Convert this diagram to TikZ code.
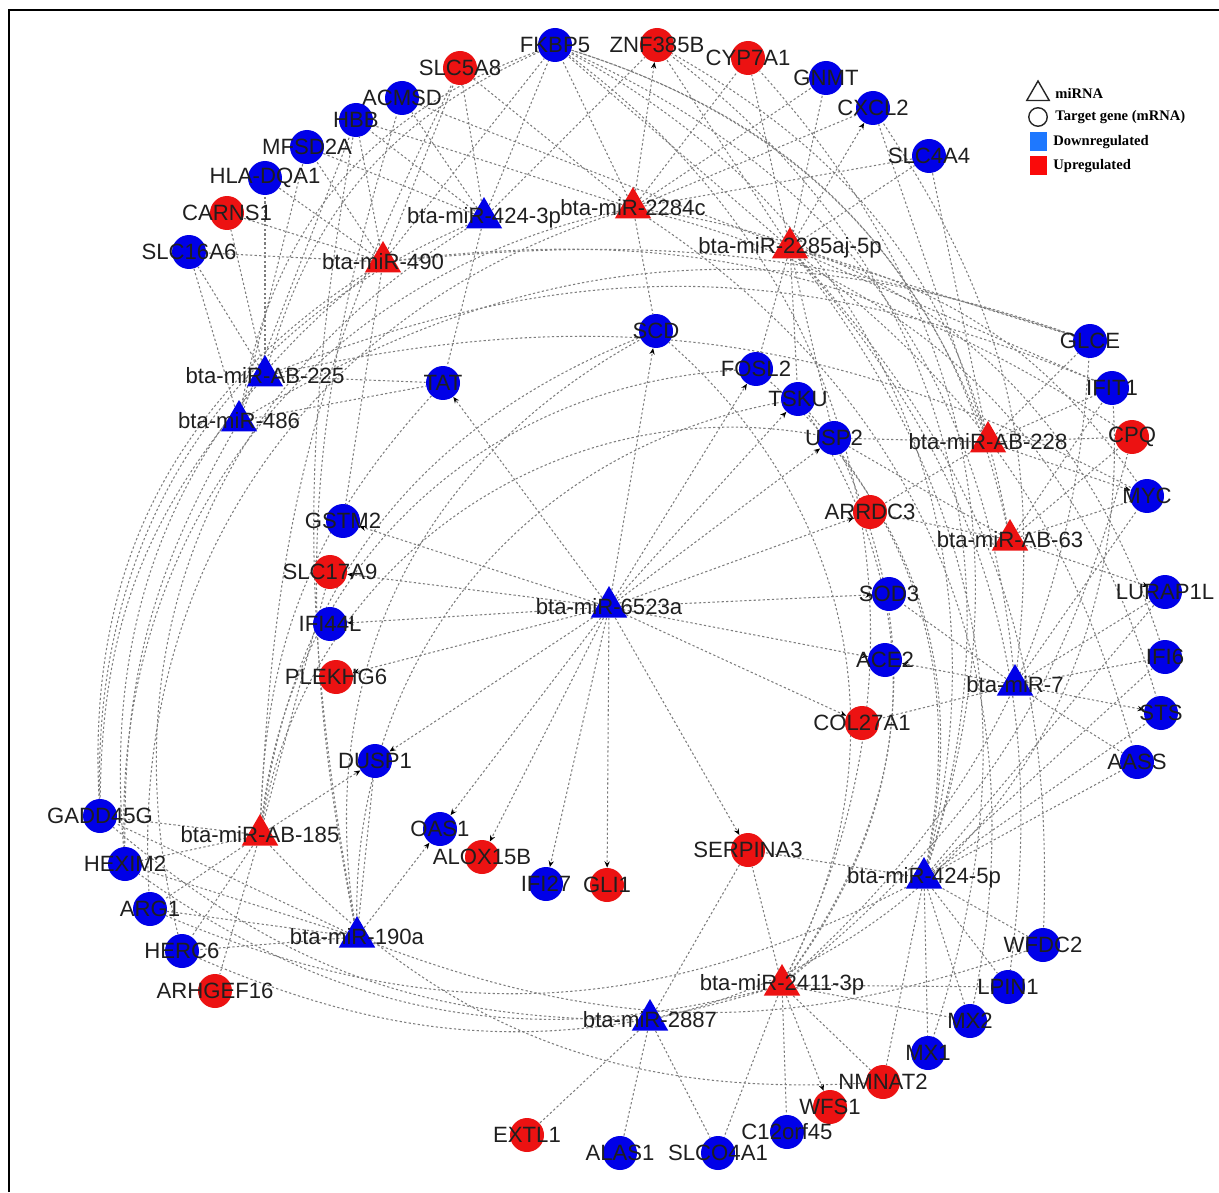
\documentclass[tikz,border=0pt]{standalone}
\usepackage{fontspec}
\setmainfont{Liberation Sans}
\newfontfamily\legfont{Liberation Serif}
\usetikzlibrary{arrows.meta,shapes.geometric,backgrounds}
\definecolor{nblue}{RGB}{0,0,232}
\definecolor{nred}{RGB}{236,18,18}
\definecolor{lblue}{RGB}{30,120,255}
\definecolor{lred}{RGB}{250,10,10}
\definecolor{egray}{RGB}{125,125,125}
\tikzset{
  gene/.style={circle,fill=#1,draw=none,minimum size=0.68cm,inner sep=0pt},
  mir/.style={regular polygon,regular polygon sides=3,fill=#1,draw=none,minimum size=0.84cm,inner sep=0pt},
  lbl/.style={font=\fontsize{12.6}{14}\selectfont,text=black!88,inner sep=0pt},
  edge/.style={draw=egray,line width=0.6pt,dash pattern=on 1.3pt off 1.3pt},
  aedge/.style={edge,-{Stealth[length=3.6pt,width=3pt,color=black]}},
  legtxt/.style={font=\legfont\bfseries\fontsize{8.3}{10}\selectfont,anchor=west,inner sep=0pt},
}
\newcommand\mkgene[5]{\node[gene=#4,label={[lbl]center:#5}] (#1) at (#2,#3) {};}
\newcommand\mkmir[5]{\node[mir=#4,label={[lbl]center:#5}] (#1) at (#2,#3) {};}
\begin{document}
\begin{tikzpicture}[x=0.02cm,y=-0.02cm]
\useasboundingbox (0,0) rectangle (1219,1192);
\draw[line width=1.2pt] (9,1192) -- (9,10) -- (1219,10);
% genes
\mkgene{FKBP5}{555}{45}{nblue}{FKBP5}
\mkgene{ZNF385B}{657}{45}{nred}{ZNF385B}
\mkgene{CYP7A1}{748}{58}{nred}{CYP7A1}
\mkgene{GNMT}{826}{78}{nblue}{GNMT}
\mkgene{CXCL2}{873}{108}{nblue}{CXCL2}
\mkgene{SLC4A4}{929}{156}{nblue}{SLC4A4}
\mkgene{SLC5A8}{460}{68}{nred}{SLC5A8}
\mkgene{ACMSD}{402}{98}{nblue}{ACMSD}
\mkgene{HBB}{356}{120}{nblue}{HBB}
\mkgene{MFSD2A}{307}{147}{nblue}{MFSD2A}
\mkgene{HLADQA1}{265}{178}{nblue}{HLA-DQA1}
\mkgene{CARNS1}{227}{213}{nred}{CARNS1}
\mkgene{SLC16A6}{189}{252}{nblue}{SLC16A6}
\mkgene{SCD}{656}{331}{nblue}{SCD}
\mkgene{GLCE}{1090}{341}{nblue}{GLCE}
\mkgene{IFIT1}{1112}{388}{nblue}{IFIT1}
\mkgene{CPQ}{1132}{437}{nred}{CPQ}
\mkgene{TAT}{443}{383}{nblue}{TAT}
\mkgene{FOSL2}{756}{369}{nblue}{FOSL2}
\mkgene{TSKU}{798}{399}{nblue}{TSKU}
\mkgene{USP2}{834}{438}{nblue}{USP2}
\mkgene{MYC}{1147}{496}{nblue}{MYC}
\mkgene{ARRDC3}{870}{512}{nred}{ARRDC3}
\mkgene{GSTM2}{343}{521}{nblue}{GSTM2}
\mkgene{SLC17A9}{330}{572}{nred}{SLC17A9}
\mkgene{SOD3}{889}{594}{nblue}{SOD3}
\mkgene{LURAP1L}{1165}{592}{nblue}{LURAP1L}
\mkgene{IFI44L}{330}{624}{nblue}{IFI44L}
\mkgene{IFI6}{1165}{657}{nblue}{IFI6}
\mkgene{ACE2}{885}{660}{nblue}{ACE2}
\mkgene{PLEKHG6}{336}{677}{nred}{PLEKHG6}
\mkgene{STS}{1161}{713}{nblue}{STS}
\mkgene{COL27A1}{862}{723}{nred}{COL27A1}
\mkgene{DUSP1}{375}{761}{nblue}{DUSP1}
\mkgene{AASS}{1137}{762}{nblue}{AASS}
\mkgene{GADD45G}{100}{816}{nblue}{GADD45G}
\mkgene{OAS1}{440}{829}{nblue}{OAS1}
\mkgene{ALOX15B}{482}{857}{nred}{ALOX15B}
\mkgene{SERPINA3}{748}{850}{nred}{SERPINA3}
\mkgene{HEXIM2}{125}{864}{nblue}{HEXIM2}
\mkgene{IFI27}{546}{884}{nblue}{IFI27}
\mkgene{GLI1}{607}{885}{nred}{GLI1}
\mkgene{ARG1}{150}{909}{nblue}{ARG1}
\mkgene{WFDC2}{1043}{945}{nblue}{WFDC2}
\mkgene{HERC6}{182}{951}{nblue}{HERC6}
\mkgene{ARHGEF16}{215}{991}{nred}{ARHGEF16}
\mkgene{LPIN1}{1008}{987}{nblue}{LPIN1}
\mkgene{MX2}{970}{1021}{nblue}{MX2}
\mkgene{MX1}{928}{1053}{nblue}{MX1}
\mkgene{NMNAT2}{883}{1082}{nred}{NMNAT2}
\mkgene{WFS1}{830}{1107}{nred}{WFS1}
\mkgene{EXTL1}{527}{1135}{nred}{EXTL1}
\mkgene{C12orf45}{787}{1132}{nblue}{C12orf45}
\mkgene{ALAS1}{620}{1153}{nblue}{ALAS1}
\mkgene{SLCO4A1}{718}{1153}{nblue}{SLCO4A1}
% miRNAs
\mkmir{mFourThree}{484}{218}{nblue}{bta-miR-424-3p}
\mkmir{mTwoEightFour}{633}{208}{nred}{bta-miR-2284c}
\mkmir{mTwoEightFive}{790}{248}{nred}{bta-miR-2285aj-5p}
\mkmir{mFourNinety}{383}{262}{nred}{bta-miR-490}
\mkmir{mABtwoTwoFive}{265}{376}{nblue}{bta-miR-AB-225}
\mkmir{mFourEightSix}{239}{421}{nblue}{bta-miR-486}
\mkmir{mABtwoTwoEight}{988}{442}{nred}{bta-miR-AB-228}
\mkmir{mABsixThree}{1010}{540}{nred}{bta-miR-AB-63}
\mkmir{mSixFive}{609}{607}{nblue}{bta-miR-6523a}
\mkmir{mSeven}{1015}{685}{nblue}{bta-miR-7}
\mkmir{mABoneEightFive}{260}{835}{nred}{bta-miR-AB-185}
\mkmir{mFourFive}{924}{878}{nblue}{bta-miR-424-5p}
\mkmir{mOneNinety}{357}{937}{nblue}{bta-miR-190a}
\mkmir{mTwoFourEleven}{782}{985}{nred}{bta-miR-2411-3p}
\mkmir{mTwoEightEight}{650}{1020}{nblue}{bta-miR-2887}
% legend
\node[regular polygon,regular polygon sides=3,draw=black!85,line width=0.8pt,minimum size=0.52cm,inner sep=0pt] (legtri) at (1038,94) {};
\node[circle,draw=black!85,line width=0.8pt,minimum size=0.37cm,inner sep=0pt] (legcirc) at (1038,117) {};
\node[fill=lblue,minimum width=0.34cm,minimum height=0.38cm,inner sep=0pt] (legdown) at (1038,142) {};
\node[fill=lred,minimum width=0.34cm,minimum height=0.38cm,inner sep=0pt] (legup) at (1038,166) {};
\node[legtxt] (legtria) at (1055,93) {miRNA};
\node[legtxt] (legcirca) at (1055,117) {Target gene (mRNA)};
\node[legtxt] (legdowna) at (1053,142) {Downregulated};
\node[legtxt] (legupa) at (1053,166) {Upregulated};
% edges
\begin{scope}[on background layer]
\foreach \t in {SCD,TAT,FOSL2,TSKU,USP2,ARRDC3,SOD3,ACE2,COL27A1,GSTM2,SLC17A9,IFI44L,PLEKHG6,DUSP1,OAS1,ALOX15B,IFI27,GLI1,SERPINA3}
  \draw[aedge] (mSixFive) -- (\t);
\foreach \t in {FKBP5,CYP7A1,SLC5A8,GNMT,CXCL2,HBB,SCD,SLC4A4}
  \draw[edge] (mTwoEightFour) -- (\t);
\draw[aedge] (mTwoEightFour) -- (ZNF385B);
\foreach \t in {CYP7A1,GNMT,SLC4A4,FKBP5,ZNF385B,FOSL2,TSKU,USP2,GLCE,IFIT1,ACMSD}
  \draw[edge] (mTwoEightFive) -- (\t);
\draw[aedge] (mTwoEightFive) -- (CXCL2);
\foreach \t in {FKBP5,ACMSD,SLC5A8,HBB,MFSD2A,TAT,ZNF385B}
  \draw[edge] (mFourThree) -- (\t);
\foreach \t in {SLC16A6,CARNS1,HLADQA1,MFSD2A,HBB,SLC5A8,FKBP5,GSTM2}
  \draw[edge] (mFourNinety) -- (\t);
\foreach \t in {TAT,HLADQA1,CARNS1,SLC16A6}
  \draw[edge] (mABtwoTwoFive) -- (\t);
\foreach \t in {TAT,SLC16A6,HBB,MFSD2A}
  \draw[edge] (mFourEightSix) -- (\t);
\foreach \t in {USP2,ARRDC3,GLCE,IFIT1,CPQ,SLC4A4,CXCL2}
  \draw[edge] (mABtwoTwoEight) -- (\t);
\draw[aedge] (mABtwoTwoEight) -- (MYC);
\foreach \t in {ARRDC3,MYC,CPQ,IFIT1,USP2}
  \draw[edge] (mABsixThree) -- (\t);
\draw[aedge] (mABsixThree) -- (LURAP1L);
\foreach \t in {SOD3,COL27A1,IFI6,AASS,MYC}
  \draw[edge] (mSeven) -- (\t);
\draw[aedge] (mSeven) -- (ACE2);
\draw[aedge] (mSeven) -- (STS);
\draw[edge] (mSeven) -- (LURAP1L);
\foreach \t in {SERPINA3,WFDC2,LPIN1,MX2,MX1,AASS,STS,NMNAT2,IFI6,LURAP1L}
  \draw[edge] (mFourFive) -- (\t);
\foreach \t in {SERPINA3,NMNAT2,C12orf45,SLCO4A1,LPIN1,MX2}
  \draw[edge] (mTwoFourEleven) -- (\t);
\draw[aedge] (mTwoFourEleven) -- (WFS1);
\foreach \t in {ALAS1,EXTL1,SLCO4A1,SERPINA3}
  \draw[edge] (mTwoEightEight) -- (\t);
\foreach \t in {ARG1,HEXIM2,HERC6,GADD45G,DUSP1}
  \draw[edge] (mOneNinety) -- (\t);
\draw[aedge] (mOneNinety) -- (OAS1);
\foreach \t in {GADD45G,HEXIM2,ARHGEF16,ARG1,HERC6,SLC17A9}
  \draw[edge] (mABoneEightFive) -- (\t);
\draw[aedge] (mABoneEightFive) -- (DUSP1);
% long arcs, right side
\draw[edge] (mTwoFourEleven) to[bend right=40] (FKBP5);
\draw[edge] (mFourFive) to[bend right=30] (CYP7A1);
\draw[edge] (mFourFive) to[bend right=35] (ZNF385B);
\draw[edge] (mFourFive) to[bend right=38] (FKBP5);
\draw[edge] (mTwoFourEleven) to[bend right=22] (GLCE);
\draw[edge] (mTwoFourEleven) to[bend right=18] (CPQ);
\draw[edge] (mTwoEightEight) to[bend right=40] (IFIT1);
\draw[edge] (mSeven) to[bend right=30] (FKBP5);
\draw[edge] (mSeven) to[bend right=20] (CXCL2);
\draw[edge] (mABsixThree) to[bend right=30] (FKBP5);
\draw[edge] (mABsixThree) to[bend right=25] (ZNF385B);
\draw[edge] (mABtwoTwoEight) to[bend right=25] (FKBP5);
\draw[edge] (mTwoEightFive) to[bend left=20] (MYC);
\draw[edge] (mTwoEightFive) to[bend left=28] (MX1);
\draw[edge] (mTwoEightFive) to[bend left=24] (LPIN1);
\draw[edge] (mTwoEightFive) to[bend left=22] (WFDC2);
\draw[edge] (mTwoEightFive) to[bend left=18] (AASS);
\draw[edge] (mTwoEightFour) to[bend left=32] (IFI6);
\draw[edge] (mTwoEightFour) to[bend left=30] (STS);
\draw[edge] (mTwoEightFour) to[bend left=34] (MX2);
\draw[edge] (mFourFive) to[bend right=25] (TSKU);
\draw[edge] (mFourFive) to[bend right=30] (FOSL2);
\draw[edge] (mTwoFourEleven) to[bend right=30] (USP2);
\draw[edge] (mTwoFourEleven) to[bend right=35] (TSKU);
\draw[edge] (mTwoFourEleven) to[bend right=38] (SCD);
% long arcs, left side
\draw[edge] (mFourNinety) to[bend right=30] (GADD45G);
\draw[edge] (mFourNinety) to[bend right=28] (HEXIM2);
\draw[edge] (mFourThree) to[bend right=34] (GADD45G);
\draw[edge] (mTwoEightFour) to[bend right=38] (ARG1);
\draw[edge] (mTwoEightFour) to[bend right=40] (HEXIM2);
\draw[edge] (mABtwoTwoFive) to[bend right=20] (GADD45G);
\draw[edge] (mFourEightSix) to[bend right=15] (HEXIM2);
\draw[edge] (mFourThree) to[bend right=36] (HERC6);
\draw[edge] (mOneNinety) to[bend left=10] (HBB);
\draw[edge] (mABoneEightFive) to[bend left=12] (SLC5A8);
\draw[edge] (mOneNinety) to[bend left=14] (ACMSD);
% bottom arcs
\draw[edge] (mFourFive) to[bend left=25] (ARG1);
\draw[edge] (mTwoFourEleven) to[bend left=20] (HERC6);
\draw[edge] (mTwoEightEight) to[bend left=20] (GADD45G);
\draw[edge] (mTwoFourEleven) to[bend left=25] (HEXIM2);
\draw[edge] (mOneNinety) to[bend right=20] (WFDC2);
\draw[edge] (mABoneEightFive) to[bend right=25] (NMNAT2);
% inner arcs around centre
\draw[edge] (mABoneEightFive) to[bend left=30] (SCD);
\draw[edge] (mABoneEightFive) to[bend left=40] (FOSL2);
\draw[edge] (mOneNinety) to[bend left=40] (TSKU);
\draw[edge] (mOneNinety) to[bend left=35] (SCD);
\draw[edge] (mABoneEightFive) to[bend left=45] (USP2);
\draw[edge] (mABoneEightFive) to[bend left=20] (TAT);
% top horizontal bundle
\draw[edge] (mFourNinety) to[bend left=20] (CPQ);
\draw[edge] (mFourNinety) to[bend left=12] (GLCE);
\draw[edge] (mABtwoTwoFive) to[bend left=20] (MYC);
\draw[edge] (mFourEightSix) to[bend left=25] (GLCE);
\draw[edge] (mABtwoTwoFive) to[bend left=22] (IFIT1);
\draw[edge] (mABtwoTwoFive) to[bend left=25] (FKBP5);
\draw[edge] (mFourEightSix) to[bend left=30] (FKBP5);
\end{scope}
\end{tikzpicture}
\end{document}
